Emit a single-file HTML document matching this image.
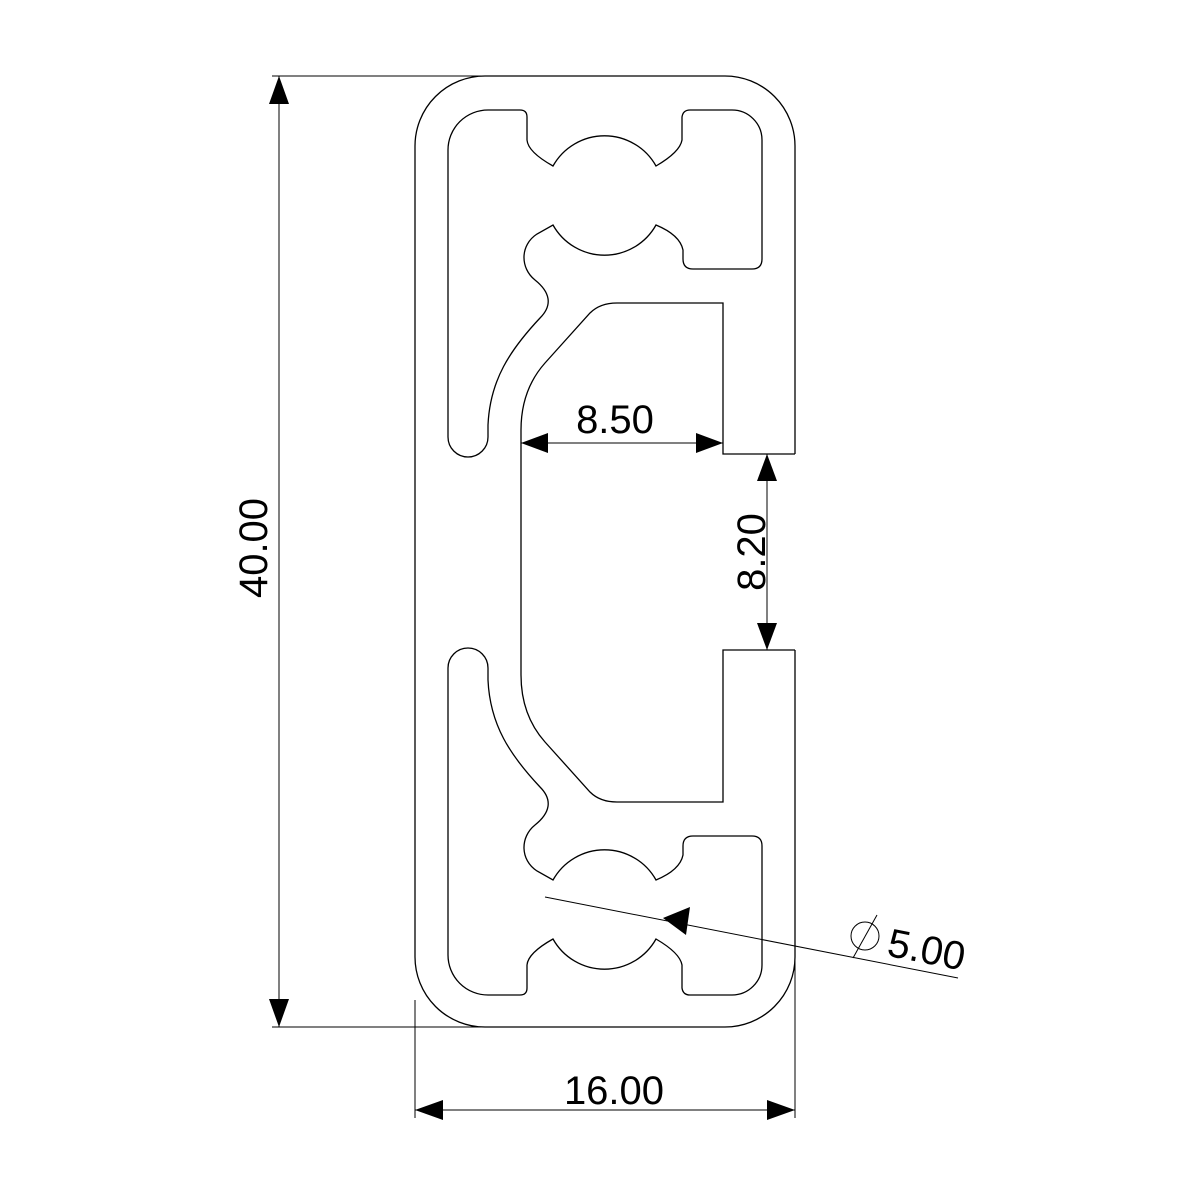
<!DOCTYPE html>
<html><head><meta charset="utf-8"><style>html,body{margin:0;padding:0;background:#fff}svg{display:block}</style></head>
<body>
<svg width="1200" height="1200" viewBox="0 0 1200 1200" xmlns="http://www.w3.org/2000/svg">
<g fill="none" stroke="#000" stroke-width="1.3">
<path d="M795 454 L795 146 A70 70 0 0 0 725 76 L485 76 A70 70 0 0 0 415 146 L415 957 A70 70 0 0 0 485 1027 L725 1027 A70 70 0 0 0 795 957 L795 650"/>
<path d="M795 454 L723 454 L723 303 L617 303 Q600 303 590 313 L545 363 Q521 390 521 430 L521 675 Q521 715 545 742 L590 792 Q600 802 617 802 L723 802 L723 650 L795 650"/>
<path id="cav" d="M448 437 L448 150 A40 40 0 0 1 488 110 L520 110 Q527 110 527 117 L527 140 Q528 152 553 166 A59 59 0 0 1 656 166 Q680 152 682 140 L682 117 Q683 110 690 110 L732 110 A30 30 0 0 1 762 140 L762 259 Q762 269 752 269 L693 269 Q683 269 683 259 L683 250 Q680 235 656 225 A59 59 0 0 1 553 225 L537 234 C520 245 520 268 535 280 C550 292 553 305 540 318 C510 350 490 380 488 425 L488 437 A20 20 0 0 1 448 437 Z"/>
<use href="#cav" transform="translate(0,1105) scale(1,-1)"/>
</g>
<g stroke="#000" stroke-width="1" fill="none">
<line x1="272" y1="76" x2="485" y2="76"/>
<line x1="272" y1="1027" x2="485" y2="1027"/>
<line x1="279" y1="76" x2="279" y2="1027"/>
<line x1="415" y1="1000" x2="415" y2="1118"/>
<line x1="795" y1="957" x2="795" y2="1118"/>
<line x1="415" y1="1110" x2="795" y2="1110"/>
<line x1="521" y1="443" x2="723" y2="443"/>
<line x1="767" y1="454" x2="767" y2="650"/>
<line x1="545" y1="897" x2="958" y2="978"/>
<circle cx="865" cy="936" r="14"/>
<line x1="853" y1="958" x2="877" y2="915"/>
</g>
<g fill="#000">
<polygon points="279,76 269,104 289,104"/>
<polygon points="279,1027 269,999 289,999"/>
<polygon points="415,1110 443,1100 443,1120"/>
<polygon points="795,1110 767,1100 767,1120"/>
<polygon points="521,443 548,433 548,453"/>
<polygon points="723,443 696,433 696,453"/>
<polygon points="767,454 757,481 777,481"/>
<polygon points="767,650 757,623 777,623"/>
<polygon points="663,918 690,907 686,935"/>
</g>
<g font-family="Liberation Sans, sans-serif" font-size="40" fill="#000" text-anchor="middle">
<text x="615" y="433">8.50</text>
<text x="614" y="1104">16.00</text>
<text transform="translate(267,548) rotate(-90)">40.00</text>
<text transform="translate(765,552) rotate(-90)">8.20</text>
<text transform="translate(924,963) rotate(11.1)">5.00</text>
</g>
</svg>
</body></html>
